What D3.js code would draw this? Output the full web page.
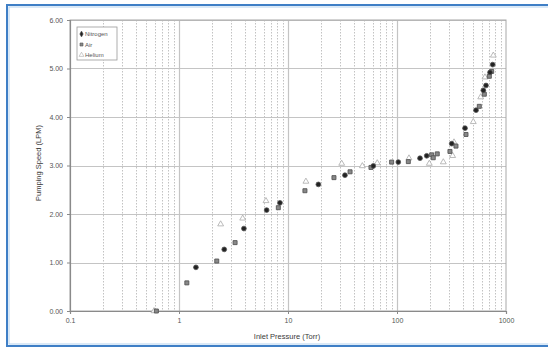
<!DOCTYPE html>
<html>
<head>
<meta charset="utf-8">
<script src="https://cdn.jsdelivr.net/npm/d3@7"></script>
<style>
  html, body { margin: 0; padding: 0; background: #fff; }
  svg { display: block; font-family: "Liberation Sans", Arial, sans-serif; }
</style>
</head>
<body>
<svg id="chart" width="548" height="349"></svg>
<script>
// Pumping speed vs. inlet pressure for three gases
const nitrogenPressure = [1.43, 2.60, 3.94, 6.37, 8.44, 19.0, 33.3, 60.6, 102.8, 162.6, 187.3, 317.8, 420.7, 530.9, 619.6, 655.4, 713.5, 755];
const nitrogenSpeed    = [0.90, 1.27, 1.70, 2.08, 2.23, 2.61, 2.80, 2.99, 3.07, 3.15, 3.20, 3.45, 3.77, 4.14, 4.55, 4.65, 4.92, 5.08];

const airPressure = [0.62, 1.18, 2.22, 3.27, 8.15, 14.3, 26.4, 37.1, 57.7, 89.3, 127, 208, 215, 234, 306, 347.6, 429.6, 569, 632.5, 703, 739];
const airSpeed    = [0.00, 0.58, 1.03, 1.41, 2.13, 2.48, 2.75, 2.87, 2.96, 3.07, 3.08, 3.22, 3.16, 3.24, 3.29, 3.40, 3.64, 4.22, 4.47, 4.84, 4.94];

const heliumPressure = [0.59, 2.41, 3.84, 6.28, 14.6, 31.1, 48.1, 65.9, 128.8, 197.8, 266, 324, 333.4, 501, 586, 641, 765];
const heliumSpeed    = [0.00, 1.79, 1.91, 2.27, 2.67, 3.04, 2.99, 3.05, 3.15, 3.04, 3.07, 3.20, 3.48, 3.90, 4.41, 4.82, 5.27];

const xTickValues = [0.1, 1, 10, 100, 1000];
const xTickLabels = ["0.1", "1", "10", "100", "1000"];
const yTickValues = [0, 1, 2, 3, 4, 5, 6];
const yTickLabels = ["0.00", "1.00", "2.00", "3.00", "4.00", "5.00", "6.00"];

const seriesNames = ["Nitrogen", "Air", "Helium"];

const svg = d3.select("#chart");
const W = 548, H = 349;
const margin = { left: 70, right: 42, top: 20, bottom: 38 };

const x = d3.scaleLog().domain([0.1, 1000]).range([margin.left, W - margin.right]);
const y = d3.scaleLinear().domain([0, 6]).range([H - margin.bottom, margin.top]);

// outer frame
svg.append("rect").attr("x", 7).attr("y", 5).attr("width", 600).attr("height", 341)
  .attr("fill", "#fff").attr("stroke", "#3f7fc6").attr("stroke-width", 2);
svg.append("rect").attr("x", 9).attr("y", 7).attr("width", 600).attr("height", 337)
  .attr("fill", "none").attr("stroke", "#b5d3ef").attr("stroke-width", 1);

// minor vertical grid (2..9 within each decade)
const minor = [];
for (let d = 0.1; d < 1000; d *= 10) {
  for (let k = 2; k <= 9; k++) minor.push(d * k);
}
svg.append("g").selectAll("line").data(minor).join("line")
  .attr("x1", d => Math.round(x(d)) + 0.5).attr("x2", d => Math.round(x(d)) + 0.5)
  .attr("y1", y(6)).attr("y2", y(0))
  .attr("stroke", "#c2c2c2").attr("stroke-width", 1).attr("stroke-dasharray", "1.5,1.5");

// major grid
svg.append("g").selectAll("line").data(xTickValues.slice(1, -1)).join("line")
  .attr("x1", d => Math.round(x(d)) + 0.5).attr("x2", d => Math.round(x(d)) + 0.5)
  .attr("y1", y(6)).attr("y2", y(0))
  .attr("stroke", "#c4c4c4").attr("stroke-width", 1.2);
svg.append("g").selectAll("line").data(yTickValues.slice(1)).join("line")
  .attr("x1", x(0.1)).attr("x2", x(1000))
  .attr("y1", d => Math.round(y(d)) + 0.5).attr("y2", d => Math.round(y(d)) + 0.5)
  .attr("stroke", "#c4c4c4").attr("stroke-width", 1.2);

// plot border (top/right)
svg.append("rect").attr("x", x(0.1)).attr("y", y(6))
  .attr("width", x(1000) - x(0.1)).attr("height", y(0) - y(6))
  .attr("fill", "none").attr("stroke", "#a8a8a8").attr("stroke-width", 1);

// axes
const xAxis = svg.append("g").attr("transform", `translate(0,${y(0)})`)
  .call(d3.axisBottom(x).tickValues(xTickValues).tickFormat((d, i) => xTickLabels[i]).tickSize(3).tickPadding(4));
const yAxis = svg.append("g").attr("transform", `translate(${x(0.1)},0)`)
  .call(d3.axisLeft(y).tickValues(yTickValues).tickFormat((d, i) => yTickLabels[i]).tickSize(3).tickPadding(4));
[xAxis, yAxis].forEach(g => {
  g.select(".domain").attr("stroke", "#8a8a8a").attr("stroke-width", 1.2);
  g.selectAll(".tick line").attr("stroke", "#8a8a8a");
  g.selectAll(".tick text").attr("fill", "#555").attr("font-size", 7)
    .attr("font-family", "'Liberation Sans', Arial, sans-serif");
});

// axis titles
svg.append("text").attr("x", 287).attr("y", 339).attr("text-anchor", "middle")
  .attr("font-size", 7.5).attr("fill", "#3a3a3a").text("Inlet Pressure (Torr)");
svg.append("text").attr("transform", "translate(41,163) rotate(-90)").attr("text-anchor", "middle")
  .attr("font-size", 7.5).attr("fill", "#3a3a3a").text("Pumping Speed (LPM)");

// markers
const sym = {
  Nitrogen: d3.symbol().type(d3.symbolCircle).size(18),
  Air: d3.symbol().type(d3.symbolSquare).size(16),
  Helium: d3.symbol().type(d3.symbolTriangle).size(15)
};
const style = {
  Nitrogen: { fill: "#222", stroke: "#555", sw: 0.8 },
  Air: { fill: "#888", stroke: "#555", sw: 0.9 },
  Helium: { fill: "#fff", stroke: "#aaa", sw: 0.8 }
};
function plotSeries(name, xs, ys) {
  const s = style[name];
  svg.append("g").selectAll("path").data(xs.map((v, i) => [v, ys[i]])).join("path")
    .attr("transform", d => `translate(${x(d[0])},${y(d[1])})`)
    .attr("d", sym[name]())
    .attr("fill", s.fill).attr("stroke", s.stroke).attr("stroke-width", s.sw);
}
plotSeries("Helium", heliumPressure, heliumSpeed);
plotSeries("Air", airPressure, airSpeed);
plotSeries("Nitrogen", nitrogenPressure, nitrogenSpeed);

// legend
const lg = svg.append("g").attr("transform", "translate(77,27)");
lg.append("rect").attr("width", 40).attr("height", 33)
  .attr("fill", "#fff").attr("stroke", "#999").attr("stroke-width", 0.8);
const legSym = {
  Nitrogen: d3.symbol().type(d3.symbolDiamond).size(10),
  Air: d3.symbol().type(d3.symbolSquare).size(9),
  Helium: d3.symbol().type(d3.symbolTriangle).size(10)
};
seriesNames.forEach((n, i) => {
  const gy = 7 + i * 10.5;
  const s = style[n];
  lg.append("path").attr("transform", `translate(4.5,${gy})`).attr("d", legSym[n]())
    .attr("fill", n === "Helium" ? "#fff" : s.fill).attr("stroke", s.stroke).attr("stroke-width", 0.6);
  lg.append("text").attr("x", 8).attr("y", gy + 2.2).attr("font-size", 6)
    .attr("fill", "#555").text(n);
});
</script>
</body>
</html>
